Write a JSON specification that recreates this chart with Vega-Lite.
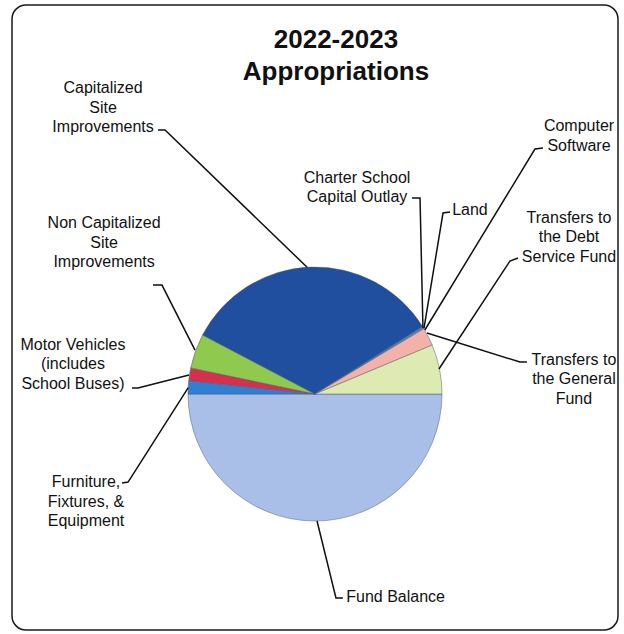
{
  "$schema": "https://vega.github.io/schema/vega-lite/v6.json",
  "autosize": {"type": "fit", "contains": "padding"},
  "width": 624,
  "height": 634,
  "padding": {"left": 12, "top": 5, "right": 6, "bottom": 4},
  "background": "white",
  "config": {
    "view": {"stroke": "#1a1a1a", "strokeWidth": 1.5, "cornerRadius": 14},
    "font": "Liberation Sans"
  },
  "datasets": {
    "slices": [
      {"category": "Fund Balance", "ord": 1, "value": 50.0},
      {"category": "Furniture, Fixtures, & Equipment", "ord": 2, "value": 1.7},
      {"category": "Motor Vehicles (includes School Buses)", "ord": 3, "value": 1.6},
      {"category": "Non Capitalized Site Improvements", "ord": 4, "value": 4.4},
      {"category": "Capitalized Site Improvements", "ord": 5, "value": 33.4},
      {"category": "Charter School Capital Outlay", "ord": 6, "value": 0.1},
      {"category": "Land", "ord": 7, "value": 0.1},
      {"category": "Computer Software", "ord": 8, "value": 0.1},
      {"category": "Transfers to the General Fund", "ord": 9, "value": 2.3},
      {"category": "Transfers to the Debt Service Fund", "ord": 10, "value": 6.3}
    ],
    "labels": [
      {"label": "Capitalized|Site|Improvements", "x": -166.9, "y": 240.9},
      {"label": "Non Capitalized|Site|Improvements", "x": -166.1, "y": 134.6},
      {"label": "Motor Vehicles|(includes|School Buses)", "x": -190.6, "y": 38.6},
      {"label": "Furniture,|Fixtures, &|Equipment", "x": -180.3, "y": -69.3},
      {"label": "Fund Balance", "x": 63.5, "y": -160.0},
      {"label": "Charter School|Capital Outlay", "x": 33.1, "y": 170.1},
      {"label": "Land", "x": 122.0, "y": 144.9},
      {"label": "Computer|Software", "x": 207.9, "y": 211.0},
      {"label": "Transfers  to|the Debt|Service Fund", "x": 200.0, "y": 138.6},
      {"label": "Transfers  to|the General|Fund", "x": 203.9, "y": 26.8}
    ],
    "title": [
      {"label": "2022-2023|Appropriations", "x": 16.5, "y": 278.7}
    ],
    "leaders": [
      {"id": "cap", "seq": 1, "x": -123.6, "y": 207.9},
      {"id": "cap", "seq": 2, "x": -118.1, "y": 207.9},
      {"id": "cap", "seq": 3, "x": -6.2, "y": 99.8},
      {"id": "noncap", "seq": 1, "x": -127.6, "y": 85.8},
      {"id": "noncap", "seq": 2, "x": -120.5, "y": 85.8},
      {"id": "noncap", "seq": 3, "x": -94.5, "y": 34.6},
      {"id": "motor", "seq": 1, "x": -144.1, "y": 4.7},
      {"id": "motor", "seq": 2, "x": -139.4, "y": 4.7},
      {"id": "motor", "seq": 3, "x": -99.2, "y": 15.0},
      {"id": "furn", "seq": 1, "x": -152.0, "y": -70.1},
      {"id": "furn", "seq": 2, "x": -147.2, "y": -69.3},
      {"id": "furn", "seq": 3, "x": -99.8, "y": 5.0},
      {"id": "fund", "seq": 1, "x": 1.6, "y": -100.0},
      {"id": "fund", "seq": 2, "x": 16.5, "y": -160.6},
      {"id": "fund", "seq": 3, "x": 22.0, "y": -160.6},
      {"id": "charter", "seq": 1, "x": 76.4, "y": 154.3},
      {"id": "charter", "seq": 2, "x": 82.7, "y": 154.3},
      {"id": "charter", "seq": 3, "x": 85.0, "y": 52.0},
      {"id": "land", "seq": 1, "x": 106.3, "y": 143.3},
      {"id": "land", "seq": 2, "x": 100.8, "y": 142.5},
      {"id": "land", "seq": 3, "x": 85.8, "y": 51.6},
      {"id": "comp", "seq": 1, "x": 179.5, "y": 193.7},
      {"id": "comp", "seq": 2, "x": 173.2, "y": 192.9},
      {"id": "comp", "seq": 3, "x": 86.5, "y": 50.4},
      {"id": "debt", "seq": 1, "x": 159.8, "y": 107.1},
      {"id": "debt", "seq": 2, "x": 153.5, "y": 104.7},
      {"id": "debt", "seq": 3, "x": 97.6, "y": 19.7},
      {"id": "gen", "seq": 1, "x": 88.2, "y": 48.0},
      {"id": "gen", "seq": 2, "x": 161.4, "y": 25.2},
      {"id": "gen", "seq": 3, "x": 166.9, "y": 25.2}
    ]
  },
  "layer": [
    {
      "data": {"name": "slices"},
      "mark": {"type": "arc", "outerRadius": 127, "stroke": "#4a5a78", "strokeWidth": 0.5},
      "encoding": {
        "x": {"datum": 0, "type": "quantitative", "scale": {"domain": [-238.6, 238.6], "nice": false, "zero": false}, "axis": null},
        "y": {"datum": 0, "type": "quantitative", "scale": {"domain": [-185.8, 306.3], "nice": false, "zero": false}, "axis": null},
        "theta": {"field": "value", "type": "quantitative", "stack": true, "scale": {"range": [1.5707963, 7.8539816]}},
        "order": {"field": "ord", "type": "quantitative", "sort": "ascending"},
        "color": {
          "field": "category", "type": "nominal", "legend": null,
          "scale": {
            "domain": ["Fund Balance", "Furniture, Fixtures, & Equipment", "Motor Vehicles (includes School Buses)", "Non Capitalized Site Improvements", "Capitalized Site Improvements", "Charter School Capital Outlay", "Land", "Computer Software", "Transfers to the General Fund", "Transfers to the Debt Service Fund"],
            "range": ["#a9bfe8", "#2f80d2", "#d8304c", "#8fc94e", "#1f4f9e", "#4aa3e6", "#5fb0ea", "#7fc0ee", "#f2b2aa", "#ddebb2"]
          }
        }
      }
    },
    {
      "data": {"name": "leaders"},
      "mark": {"type": "line", "color": "#111111", "strokeWidth": 1.5, "strokeCap": "butt"},
      "encoding": {
        "x": {"field": "x", "type": "quantitative", "scale": {"domain": [-238.6, 238.6], "nice": false, "zero": false}, "axis": null},
        "y": {"field": "y", "type": "quantitative", "scale": {"domain": [-185.8, 306.3], "nice": false, "zero": false}, "axis": null},
        "detail": {"field": "id", "type": "nominal"},
        "order": {"field": "seq", "type": "quantitative"}
      }
    },
    {
      "data": {"name": "labels"},
      "mark": {"type": "text", "lineBreak": "|", "align": "center", "baseline": "middle", "fontSize": 16, "lineHeight": 19.5, "color": "#111111", "font": "Liberation Sans"},
      "encoding": {
        "x": {"field": "x", "type": "quantitative", "scale": {"domain": [-238.6, 238.6], "nice": false, "zero": false}, "axis": null},
        "y": {"field": "y", "type": "quantitative", "scale": {"domain": [-185.8, 306.3], "nice": false, "zero": false}, "axis": null},
        "text": {"field": "label", "type": "nominal"}
      }
    },
    {
      "data": {"name": "title"},
      "mark": {"type": "text", "lineBreak": "|", "align": "center", "baseline": "middle", "fontSize": 26, "fontWeight": "bold", "lineHeight": 32, "color": "#111111", "font": "Liberation Sans"},
      "encoding": {
        "x": {"field": "x", "type": "quantitative", "scale": {"domain": [-238.6, 238.6], "nice": false, "zero": false}, "axis": null},
        "y": {"field": "y", "type": "quantitative", "scale": {"domain": [-185.8, 306.3], "nice": false, "zero": false}, "axis": null},
        "text": {"field": "label", "type": "nominal"}
      }
    }
  ]
}
